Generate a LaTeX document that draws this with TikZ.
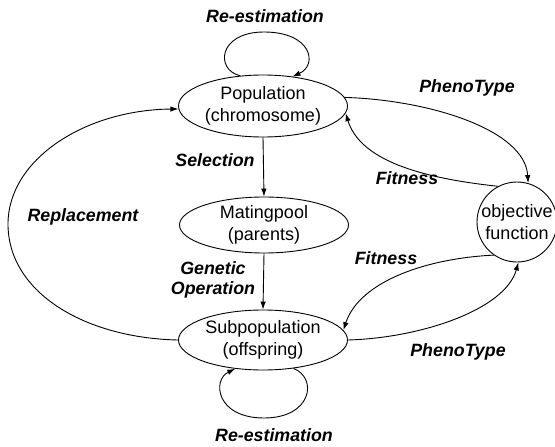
\documentclass[tikz,border=0pt]{standalone}
\usepackage{fontspec}
\setmainfont{Liberation Sans}
\usetikzlibrary{shapes.geometric,arrows.meta}
\begin{document}
\begin{tikzpicture}[x=1pt,y=-1pt,
  line width=0.9pt,
  every node/.style={font=\fontsize{18}{22.5}\selectfont},
  state/.style={ellipse,draw,inner sep=0pt,minimum width=169pt,align=center},
  objfun/.style={circle,draw,inner sep=0pt,minimum size=80pt,align=center},
  lbl/.style={font=\fontsize{17.8}{20}\selectfont\bfseries\itshape,align=center,inner sep=0pt},
  arr/.style={-{Latex[length=8pt,width=5.5pt]}}
]
\useasboundingbox (0,0) rectangle (555,447);
\clip (0,0) rectangle (555,447);

% states of the cycle
\node[state,minimum height=62pt] (pop)  at (263,106) {Population\\(chromosome)};
\node[state,minimum height=56pt] (mate) at (264,225) {Matingpool\\(parents)};
\node[state,minimum height=60pt] (sub)  at (263,340) {Subpopulation\\(offspring)};
\node[objfun] (obj) at (517,222) {objective\\function};

% straight steps
\draw[arr] (pop.south) -- (mate.north);
\draw[arr] (mate.south) -- (sub.north);

% self loops
\draw[arr] (pop.127) .. controls (215,70) and (218,32) .. (264,32)
                     .. controls (312,32) and (318,65) .. (pop.45);
\draw[arr] (sub.317) .. controls (318,378) and (312,418) .. (264,418)
                     .. controls (216,418) and (212,380) .. (sub.226);

% evaluation links
\draw[arr] (pop.6) .. controls (430,100) and (525,130) .. (obj.74);
\draw[arr] (obj.118) .. controls (420,178) and (360,160) .. (pop.-5);
\draw[arr] (obj.235) .. controls (430,258) and (360,280) .. (sub.7);
\draw[arr] (sub.0) .. controls (420,338) and (505,310) .. (obj.272);

% replacement
\draw[arr] (sub.west) .. controls (84,338) and (8,292) .. (8,224)
                      .. controls (8,160) and (84,110) .. (pop.182);

% labels
\node[lbl] (l1) at (265,16)  {Re-estimation};
\node[lbl] (l2) at (274,435) {Re-estimation};
\node[lbl] (l3) at (467,88)  {PhenoType};
\node[lbl] (l4) at (407,178) {Fitness};
\node[lbl] (l5) at (386,258) {Fitness};
\node[lbl] (l6) at (458,352) {PhenoType};
\node[lbl] (l7) at (215,160) {Selection};
\node[lbl] (l8) at (213,280) {Genetic\\Operation};
\node[lbl] (l9) at (83,217)  {Replacement};
\end{tikzpicture}
\end{document}
